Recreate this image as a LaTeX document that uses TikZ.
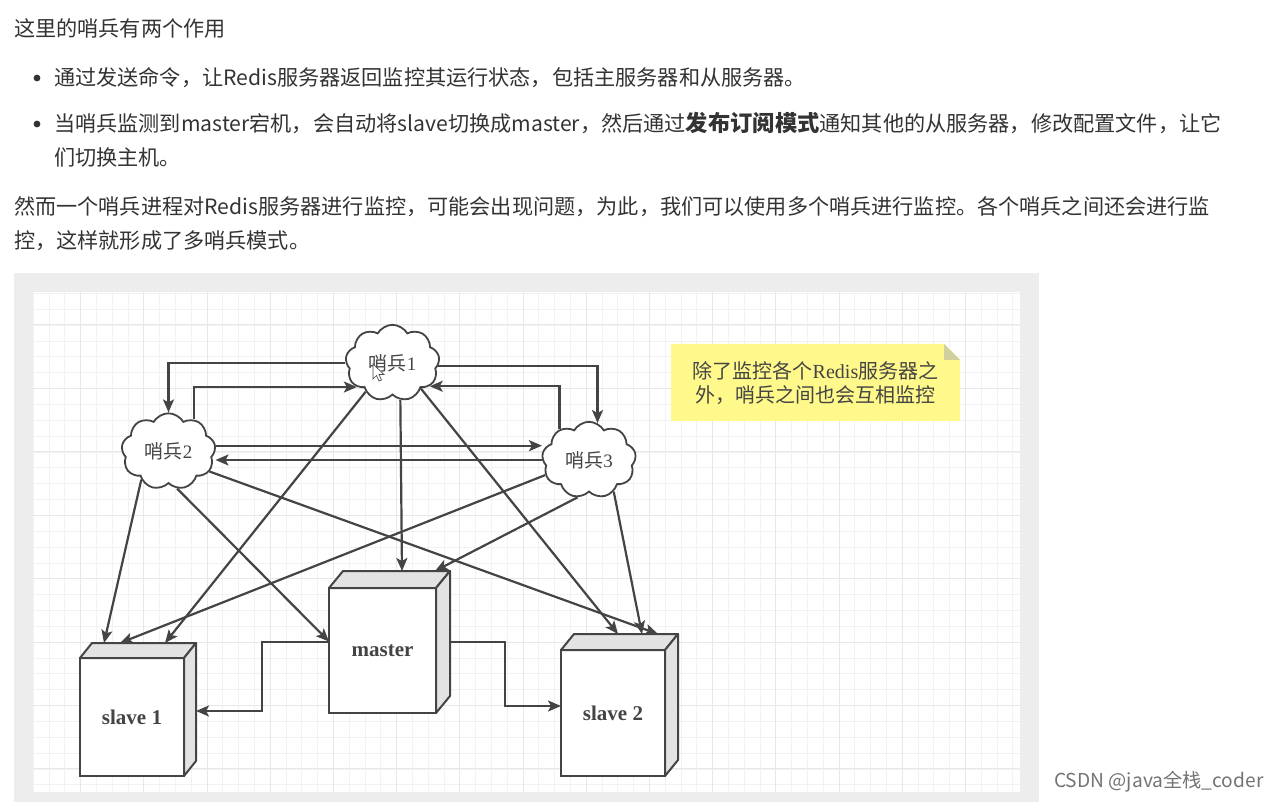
\documentclass[tikz,border=0pt]{standalone}
\usepackage{fontspec}
\setmainfont{Noto Sans CJK SC}
\newfontfamily\boxfont{Liberation Serif}
\usetikzlibrary{arrows.meta,shapes.symbols}
\definecolor{ink}{HTML}{444444}
\definecolor{bodyink}{HTML}{333333}
\newcommand{\bighead}[1]{{\bfseries\fontsize{22.3}{22.3}\selectfont #1}}
\tikzset{
	bodytext/.style={anchor=west,inner sep=0pt,text=bodyink,font=\fontsize{21.15}{21.15}\selectfont},
	notetext/.style={anchor=center,inner sep=0pt,text=ink,font=\fontsize{20}{20}\selectfont},
	sentinel/.style={cloud,cloud puffs=9,cloud puff arc=120,draw=ink,fill=white,line width=1.8pt,inner sep=0pt,
		minimum width=94pt,minimum height=74pt,text=ink,font=\fontsize{19}{19}\selectfont},
	cubeface/.style={rectangle,draw=ink,fill=white,line width=2pt,outer sep=0pt,inner sep=0pt,text=ink,
		font=\boxfont\bfseries\fontsize{21}{21}\selectfont},
	cubeside/.style={draw=ink,fill=black!11,line width=2pt,line join=round},
	link/.style={->,>={Stealth[length=13pt,width=11pt,inset=3pt]},draw=ink,line width=2.2pt},
}
\begin{document}
\begin{tikzpicture}[x=1pt,y=-1pt]
	\useasboundingbox (0,0) rectangle (1278,802);

	\node 	(title)		at	(14,28) 	[bodytext]{这里的哨兵有两个作用};
	\fill[bodyink] (37,78) circle (3.4);
	\node 	(first)		at	(54,78) 	[bodytext]{通过发送命令，让Redis服务器返回监控其运行状态，包括主服务器和从服务器。};
	\fill[bodyink] (37,124) circle (3.4);
	\node 	(second)	at	(54,123) 	[bodytext]{当哨兵监测到master宕机，会自动将slave切换成master，然后通过\bighead{发布订阅模式}通知其他的从服务器，修改配置文件，让它};
	\node 	(secondb)	at	(54,157) 	[bodytext]{们切换主机。};
	\node 	(third)		at	(14,207) 	[bodytext]{然而一个哨兵进程对Redis服务器进行监控，可能会出现问题，为此，我们可以使用多个哨兵进行监控。各个哨兵之间还会进行监};
	\node 	(thirdb)	at	(14,241) 	[bodytext]{控，这样就形成了多哨兵模式。};
	\node 	(mark)		at	(1054,782) 	[bodytext,text=black!55,font=\fontsize{19.2}{19.2}\selectfont]{CSDN @java全栈\_coder};

	% panel and grid
	\fill[black!7] (14,273) rectangle (1039,802);
	\fill[white] (33,292) rectangle (1020,792);
	\foreach \i in {0,...,62}
		\draw[black!5,line width=0.9pt] ({33.3+15.8*\i},292) -- ++(0,500);
	\foreach \i in {0,...,31}
		\draw[black!5,line width=0.9pt] (33,{293.5+15.85*\i}) -- ++(987,0);
	\foreach \i in {0,...,14}
		\draw[black!9,line width=1pt] ({80.7+63.2*\i},292) -- ++(0,500);
	\foreach \i in {0,...,7}
		\draw[black!9,line width=1pt] (33,{325+63.4*\i}) -- ++(987,0);

	% note
	\fill[yellow!45!white] (671,344) -- (944,344) -- (960,360) -- (960,421) -- (671,421) -- cycle;
	\fill[yellow!55!black!45!white] (944,344) -- (960,360) -- (944,360) -- cycle;
	\node 	(notea)		at	(815.5,371) 	[notetext]{除了监控各个{\boxfont Redis}服务器之};
	\node 	(noteb)		at	(815.5,395) 	[notetext]{外，哨兵之间也会互相监控};

	\node 	(s1)	at	(392.5,363) 	[sentinel]{哨兵{\boxfont 1}};
	\node 	(s2)	at	(168.5,451.5) 	[sentinel]{哨兵{\boxfont 2}};
	\node 	(s3)	at	(589,460) 	[sentinel]{哨兵{\boxfont 3}};

	\foreach \name/\cx/\cy/\w/\h/\dx/\dy/\txt in {slavea/132/717/104/118/12/15/slave 1,master/382.5/650.5/107/125/14/17/master,slaveb/613/713/104/126/13/16/slave 2}{
		\node	(\name b)	at	({\cx+\dx},{\cy-\dy})	[cubeface,draw=none,fill=none,minimum width=\w pt,minimum height=\h pt]{};
		\node	(\name)		at	(\cx,\cy)	[cubeface,minimum width=\w pt,minimum height=\h pt]{\txt};
		\draw[cubeside] (\name.north west) -- (\name b.north west) -- (\name b.north east) -- (\name.north east) -- cycle;
		\draw[cubeside] (\name.north east) -- (\name b.north east) -- (\name b.south east) -- (\name.south east) -- cycle;
	}

	% between the sentinels
	\draw[link] (s1.west) -| (s2.north);
	\draw[link] (s2.52) |- (s1.214);
	\draw[link] (s1.-4) -| (s3.77);
	\draw[link] (s3.134) |- (s1.-32);
	\draw[link] (s2.7) -- (s2.7 -| s3.west);
	\draw[link] (s3.west) -- (s3.west -| s2.east);

	% down to the servers
	\draw[link] (s1.227) -- ([xshift=21pt]slaveab.north);
	\draw[link] (s1.282) -- ([xshift=5.5pt]masterb.north);
	\draw[link] (s1.318) -- ([xshift=-8pt]slavebb.north);
	\draw[link] (s2.226) -- ([xshift=-40pt]slaveab.north);
	\draw[link] (s2.283) -- ([yshift=9pt]master.west);
	\draw[link] (s2.334) -- ([xshift=32pt]slavebb.north);
	\draw[link] (s3.199) -- ([xshift=-24pt]slaveab.north);
	\draw[link] (s3.253) -- ([xshift=38.5pt]masterb.north);
	\draw[link] (s3.308) -- ([xshift=16pt]slavebb.north);

	\draw[link] ([yshift=8.5pt]master.west) -- ++(-67,0) |- ([yshift=-9pt]slaveab.east);
	\draw[link] ([yshift=-8.5pt]masterb.east) -- ++(55,0) |- ([yshift=7pt]slaveb.west);

	% pointer
	\draw[black!70,fill=white,line width=0.7pt] (373,364) -- (373,379) -- (376.5,375.5) -- (379,381) -- (381.5,380) -- (379,374.5) -- (384,374.5) -- cycle;
\end{tikzpicture}
\end{document}
